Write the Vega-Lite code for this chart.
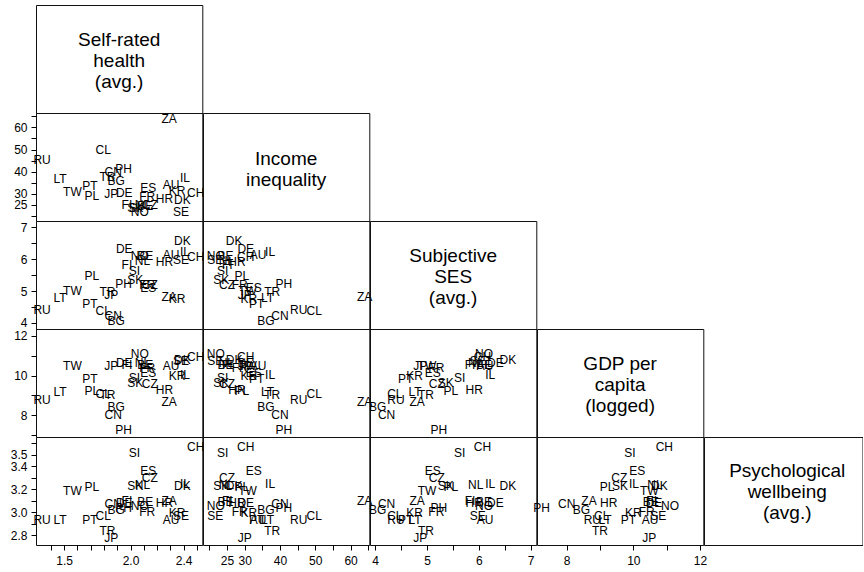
{
"$schema": "https://vega.github.io/schema/vega-lite/v6.json",
"padding": {"left": 9, "top": 4, "right": 0, "bottom": 0},
"columns": 5,
"spacing": 0,
"bounds": "flush",
"align": "each",
"datasets": {"c": [
{"cc":"RU","srh":1.335,"ineq":45.3,"ses":4.40,"gdp":8.77,"psy":2.93},
{"cc":"LT","srh":1.47,"ineq":36.5,"ses":4.77,"gdp":9.15,"psy":2.93},
{"cc":"TW","srh":1.563,"ineq":30.8,"ses":5.00,"gdp":10.48,"psy":3.188},
{"cc":"PL","srh":1.709,"ineq":29.2,"ses":5.46,"gdp":9.21,"psy":3.215},
{"cc":"PT","srh":1.694,"ineq":33.4,"ses":4.59,"gdp":9.85,"psy":2.93},
{"cc":"JP","srh":1.855,"ineq":30.0,"ses":4.87,"gdp":10.48,"psy":2.775},
{"cc":"DE","srh":1.953,"ineq":30.3,"ses":6.32,"gdp":10.62,"psy":3.08},
{"cc":"CL","srh":1.794,"ineq":49.7,"ses":4.38,"gdp":9.05,"psy":2.965},
{"cc":"PH","srh":1.948,"ineq":41.1,"ses":5.23,"gdp":7.25,"psy":3.04},
{"cc":"TR","srh":1.826,"ineq":37.8,"ses":4.98,"gdp":9.00,"psy":2.84},
{"cc":"BG","srh":1.893,"ineq":36.0,"ses":4.05,"gdp":8.44,"psy":3.018},
{"cc":"CN","srh":1.87,"ineq":40.0,"ses":4.22,"gdp":8.00,"psy":3.075},
{"cc":"ES","srh":2.134,"ineq":32.6,"ses":5.11,"gdp":10.12,"psy":3.36},
{"cc":"AU","srh":2.305,"ineq":33.8,"ses":6.12,"gdp":10.50,"psy":2.93},
{"cc":"KR","srh":2.35,"ineq":31.2,"ses":4.76,"gdp":10.00,"psy":2.995},
{"cc":"CH","srh":2.49,"ineq":30.3,"ses":6.07,"gdp":10.93,"psy":3.564},
{"cc":"IL","srh":2.41,"ineq":37.2,"ses":6.22,"gdp":10.02,"psy":3.246},
{"cc":"DK","srh":2.39,"ineq":27.0,"ses":6.56,"gdp":10.78,"psy":3.225},
{"cc":"HR","srh":2.255,"ineq":27.8,"ses":5.91,"gdp":9.26,"psy":3.08},
{"cc":"SE","srh":2.38,"ineq":21.7,"ses":5.98,"gdp":10.75,"psy":2.97},
{"cc":"FI","srh":1.973,"ineq":25.1,"ses":5.83,"gdp":10.55,"psy":3.10},
{"cc":"NL","srh":2.09,"ineq":24.8,"ses":5.94,"gdp":10.65,"psy":3.237},
{"cc":"NO","srh":2.07,"ineq":21.8,"ses":6.10,"gdp":11.10,"psy":3.052},
{"cc":"FR","srh":2.125,"ineq":28.6,"ses":5.18,"gdp":10.40,"psy":3.005},
{"cc":"SI","srh":2.03,"ineq":23.8,"ses":5.63,"gdp":9.90,"psy":3.514},
{"cc":"SK","srh":2.035,"ineq":23.4,"ses":5.36,"gdp":9.60,"psy":3.225},
{"cc":"CZ","srh":2.145,"ineq":25.0,"ses":5.19,"gdp":9.58,"psy":3.30},
{"cc":"ZA","srh":2.29,"ineq":64.0,"ses":4.81,"gdp":8.67,"psy":3.10},
{"cc":"BE","srh":2.11,"ineq":24.6,"ses":6.10,"gdp":10.52,"psy":3.09}
]},
"concat": [
{"width":166.3,"height":108,"view":{"stroke":"#111111","strokeWidth":1},"data":{"values":[{}]},"mark":{"type":"text","text":["Self-rated","health","(avg.)"],"fontSize":19,"lineHeight":21,"dy":-19}},
{"width":166.3,"height":108,"view":{"stroke":null},"data":{"values":[]},"mark":"text"},
{"width":166.3,"height":108,"view":{"stroke":null},"data":{"values":[]},"mark":"text"},
{"width":166.3,"height":108,"view":{"stroke":null},"data":{"values":[]},"mark":"text"},
{"width":158.5,"height":108,"view":{"stroke":null},"data":{"values":[]},"mark":"text"},

{"width":166.3,"height":108,"data":{"name":"c"},"mark":{"type":"text"},"encoding":{
 "x":{"field":"srh","type":"quantitative","scale":{"domain":[1.289,2.54],"nice":false,"zero":false},"axis":null},
 "y":{"field":"ineq","type":"quantitative","scale":{"domain":[17.7,66.5],"nice":false,"zero":false},"axis":{"title":null,"values":[20,25,30,35,40,45,50,55,60,65],"labelExpr":"indexof([25,30,40,50,60], datum.value) >= 0 ? format(datum.value, '.0f') : ''"}},
 "text":{"field":"cc"}}},
{"width":166.3,"height":108,"view":{"stroke":"#111111","strokeWidth":1},"data":{"values":[{}]},"mark":{"type":"text","text":["Income","inequality"],"fontSize":19,"lineHeight":21,"dy":-8.5}},
{"width":166.3,"height":108,"view":{"stroke":null},"data":{"values":[]},"mark":"text"},
{"width":166.3,"height":108,"view":{"stroke":null},"data":{"values":[]},"mark":"text"},
{"width":158.5,"height":108,"view":{"stroke":null},"data":{"values":[]},"mark":"text"},

{"width":166.3,"height":108,"data":{"name":"c"},"mark":{"type":"text"},"encoding":{
 "x":{"field":"srh","type":"quantitative","scale":{"domain":[1.289,2.54],"nice":false,"zero":false},"axis":null},
 "y":{"field":"ses","type":"quantitative","scale":{"domain":[3.81,7.2],"nice":false,"zero":false},"axis":{"title":null,"values":[4,4.5,5,5.5,6,6.5,7],"labelExpr":"datum.value % 1 == 0 ? format(datum.value, '.0f') : ''"}},
 "text":{"field":"cc"}}},
{"width":166.3,"height":108,"data":{"name":"c"},"mark":{"type":"text"},"encoding":{
 "x":{"field":"ineq","type":"quantitative","scale":{"domain":[18.2,65.3],"nice":false,"zero":false},"axis":null},
 "y":{"field":"ses","type":"quantitative","scale":{"domain":[3.81,7.2],"nice":false,"zero":false},"axis":null},
 "text":{"field":"cc"}}},
{"width":166.3,"height":108,"view":{"stroke":"#111111","strokeWidth":1},"data":{"values":[{}]},"mark":{"type":"text","text":["Subjective","SES","(avg.)"],"fontSize":19,"lineHeight":21,"dy":-19}},
{"width":166.3,"height":108,"view":{"stroke":null},"data":{"values":[]},"mark":"text"},
{"width":158.5,"height":108,"view":{"stroke":null},"data":{"values":[]},"mark":"text"},

{"width":166.3,"height":108,"data":{"name":"c"},"mark":{"type":"text"},"encoding":{
 "x":{"field":"srh","type":"quantitative","scale":{"domain":[1.289,2.54],"nice":false,"zero":false},"axis":null},
 "y":{"field":"gdp","type":"quantitative","scale":{"domain":[6.92,12.33],"nice":false,"zero":false},"axis":{"title":null,"values":[7,8,9,10,11,12],"labelExpr":"datum.value % 2 == 0 ? format(datum.value, '.0f') : ''"}},
 "text":{"field":"cc"}}},
{"width":166.3,"height":108,"data":{"name":"c"},"mark":{"type":"text"},"encoding":{
 "x":{"field":"ineq","type":"quantitative","scale":{"domain":[18.2,65.3],"nice":false,"zero":false},"axis":null},
 "y":{"field":"gdp","type":"quantitative","scale":{"domain":[6.92,12.33],"nice":false,"zero":false},"axis":null},
 "text":{"field":"cc"}}},
{"width":166.3,"height":108,"data":{"name":"c"},"mark":{"type":"text"},"encoding":{
 "x":{"field":"ses","type":"quantitative","scale":{"domain":[3.9,7.11],"nice":false,"zero":false},"axis":null},
 "y":{"field":"gdp","type":"quantitative","scale":{"domain":[6.92,12.33],"nice":false,"zero":false},"axis":null},
 "text":{"field":"cc"}}},
{"width":166.3,"height":108,"view":{"stroke":"#111111","strokeWidth":1},"data":{"values":[{}]},"mark":{"type":"text","text":["GDP per","capita","(logged)"],"fontSize":19,"lineHeight":21,"dy":-19}},
{"width":158.5,"height":108,"view":{"stroke":null},"data":{"values":[]},"mark":"text"},

{"width":166.3,"height":108,"data":{"name":"c"},"mark":{"type":"text"},"encoding":{
 "x":{"field":"srh","type":"quantitative","scale":{"domain":[1.289,2.54],"nice":false,"zero":false},"axis":{"title":null,"values":[1.4,1.5,1.6,1.7,1.8,1.9,2,2.1,2.2,2.3,2.4,2.5],"labelExpr":"indexof([1.5,2,2.4], datum.value) >= 0 ? format(datum.value, '.1f') : ''"}},
 "y":{"field":"psy","type":"quantitative","scale":{"domain":[2.715,3.654],"nice":false,"zero":false},"axis":{"title":null,"values":[2.8,2.9,3,3.1,3.2,3.3,3.4,3.5,3.6],"labelExpr":"indexof([2.8,3,3.2,3.4,3.5], datum.value) >= 0 ? format(datum.value, '.1f') : ''"}},
 "text":{"field":"cc"}}},
{"width":166.3,"height":108,"data":{"name":"c"},"mark":{"type":"text"},"encoding":{
 "x":{"field":"ineq","type":"quantitative","scale":{"domain":[18.2,65.3],"nice":false,"zero":false},"axis":{"title":null,"values":[20,25,30,35,40,45,50,55,60,65],"labelExpr":"indexof([25,30,40,50,60], datum.value) >= 0 ? format(datum.value, '.0f') : ''"}},
 "y":{"field":"psy","type":"quantitative","scale":{"domain":[2.715,3.654],"nice":false,"zero":false},"axis":null},
 "text":{"field":"cc"}}},
{"width":166.3,"height":108,"data":{"name":"c"},"mark":{"type":"text"},"encoding":{
 "x":{"field":"ses","type":"quantitative","scale":{"domain":[3.9,7.11],"nice":false,"zero":false},"axis":{"title":null,"values":[4,4.5,5,5.5,6,6.5,7],"labelExpr":"datum.value % 1 == 0 ? format(datum.value, '.0f') : ''"}},
 "y":{"field":"psy","type":"quantitative","scale":{"domain":[2.715,3.654],"nice":false,"zero":false},"axis":null},
 "text":{"field":"cc"}}},
{"width":166.3,"height":108,"data":{"name":"c"},"mark":{"type":"text"},"encoding":{
 "x":{"field":"gdp","type":"quantitative","scale":{"domain":[7.11,12.1],"nice":false,"zero":false},"axis":{"title":null,"values":[8,9,10,11,12],"labelExpr":"datum.value % 2 == 0 ? format(datum.value, '.0f') : ''"}},
 "y":{"field":"psy","type":"quantitative","scale":{"domain":[2.715,3.654],"nice":false,"zero":false},"axis":null},
 "text":{"field":"cc"}}},
{"width":158.5,"height":108,"view":{"stroke":"#111111","strokeWidth":1},"data":{"values":[{}]},"mark":{"type":"text","text":["Psychological","wellbeing","(avg.)"],"fontSize":19,"lineHeight":21,"dy":-20,"dx":4}}
],
"config": {
 "font": "Liberation Sans",
 "view": {"stroke": "#111111", "strokeWidth": 1},
 "axis": {"domain": false, "grid": false, "ticks": true, "tickColor": "#000000", "tickSize": 5, "tickWidth": 1, "labelFont": "Liberation Sans", "labelFontSize": 12, "labelColor": "#000000", "labelPadding": 2, "labelOverlap": false, "labelFlush": false, "labelBound": false},
 "axisX": {"labelPadding": 5},
 "axisY": {"labelPadding": 4},
 "text": {"font": "Liberation Sans", "fontSize": 12, "color": "#000000"}
}
}
